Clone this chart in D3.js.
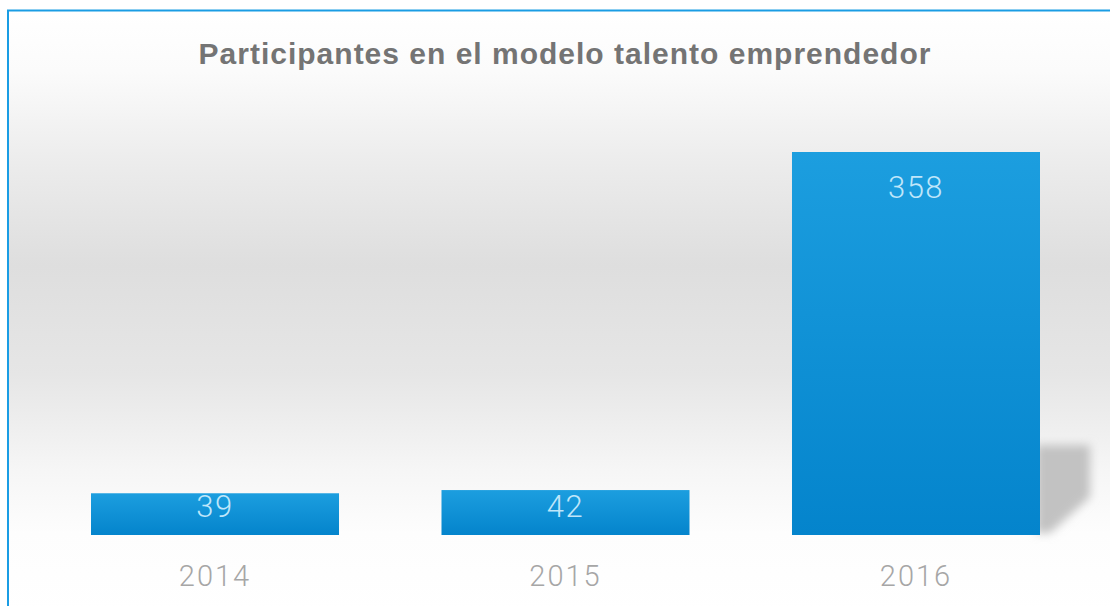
<!DOCTYPE html>
<html>
<head>
<meta charset="utf-8">
<script src="https://cdn.jsdelivr.net/npm/d3@7"></script>
<style>
  html, body { margin: 0; padding: 0; background: #ffffff; }
  svg { display: block; }
</style>
</head>
<body>
<svg id="chart" width="1110" height="606"></svg>
<script>
// Participants per year
const years = ["2014", "2015", "2016"];
const participants = [39, 42, 358];
const chartTitle = "Participantes en el modelo talento emprendedor";

const W = 1110, H = 606;
const svg = d3.select("#chart");
const defs = svg.append("defs");

// Panel background: white at top, grey band through the middle, white again at the base
const bg = defs.append("linearGradient")
  .attr("id", "bgGrad").attr("x1", 0).attr("y1", 0).attr("x2", 0).attr("y2", 1);
[[0, "#ffffff"], [0.1, "#fbfbfb"], [0.25, "#ececec"], [0.42, "#dedede"],
 [0.6, "#e6e6e6"], [0.76, "#f6f6f6"], [0.86, "#fdfdfd"], [1, "#ffffff"]]
  .forEach(([o, c]) => bg.append("stop").attr("offset", o).attr("stop-color", c));

// Bar fill: lighter blue at the top, deeper blue at the bottom
const barGrad = defs.append("linearGradient")
  .attr("id", "barGrad").attr("x1", 0).attr("y1", 0).attr("x2", 0).attr("y2", 1);
barGrad.append("stop").attr("offset", 0).attr("stop-color", "#1c9edf");
barGrad.append("stop").attr("offset", 1).attr("stop-color", "#0484cc");

const blur = defs.append("filter").attr("id", "shadowBlur")
  .attr("x", "-50%").attr("y", "-50%").attr("width", "200%").attr("height", "200%");
blur.append("feGaussianBlur").attr("stdDeviation", 5);

// Panel with its blue frame
svg.append("rect")
  .attr("x", 8).attr("y", 11).attr("width", W).attr("height", H)
  .attr("fill", "url(#bgGrad)");
svg.append("path")
  .attr("d", `M8,${H} V10.5 H${W}`)
  .attr("fill", "none").attr("stroke", "#1a9de4").attr("stroke-width", 2);

// Title
svg.append("text")
  .attr("x", 565).attr("y", 64)
  .attr("text-anchor", "middle")
  .attr("font-family", "'Liberation Sans', Arial, sans-serif")
  .attr("font-weight", "bold")
  .attr("font-size", 30)
  .attr("letter-spacing", 1)
  .attr("fill", "#747474")
  .text(chartTitle);

// Scales
const x = d3.scaleBand()
  .domain(years)
  .range([91, 1040])
  .paddingInner(0.2924)
  .paddingOuter(0);

const y = d3.scaleLinear()
  .domain([0, 358])
  .range([535, 152]);

const data = years.map((yr, i) => ({ year: yr, value: participants[i] }));
const maxItem = data.reduce((a, b) => (b.value > a.value ? b : a));

// Soft shadow cast to the right of the tallest bar
const sx = x(maxItem.year) + x.bandwidth();
const sb = y(0);
svg.append("path")
  .attr("d", `M${sx - 4},${sb - 90} L${sx + 50},${sb - 90} L${sx + 50},${sb - 38} L${sx + 10},${sb - 2} L${sx - 4},${sb - 2} Z`)
  .attr("fill", "#c2c2c2")
  .attr("filter", "url(#shadowBlur)");

// Bars
svg.append("g").selectAll("rect")
  .data(data)
  .join("rect")
  .attr("x", d => x(d.year))
  .attr("y", d => y(d.value))
  .attr("width", x.bandwidth())
  .attr("height", d => y(0) - y(d.value))
  .attr("fill", "url(#barGrad)");

// Value labels inside the bars
svg.append("g").selectAll("text")
  .data(data)
  .join("text")
  .attr("x", d => x(d.year) + x.bandwidth() / 2)
  .attr("y", d => Math.min(y(d.value) + 46, y(0) - 18))
  .attr("text-anchor", "middle")
  .attr("font-family", "Roboto, 'Open Sans', sans-serif")
  .attr("font-weight", 300)
  .attr("font-size", 31)
  .attr("letter-spacing", 1.5)
  .attr("fill", "#bfe6fa")
  .text(d => d.value);

// Category axis labels
const xAxis = d3.axisBottom(x).tickSize(0).tickPadding(0);
const axisG = svg.append("g")
  .attr("transform", `translate(0,${y(0)})`)
  .call(xAxis);
axisG.select(".domain").remove();
axisG.selectAll("text")
  .attr("y", 51)
  .attr("dy", 0)
  .attr("font-family", "Roboto, 'Open Sans', sans-serif")
  .attr("font-weight", 300)
  .attr("font-size", 29)
  .attr("letter-spacing", 2)
  .attr("fill", "#a6a6a6");
</script>
</body>
</html>
